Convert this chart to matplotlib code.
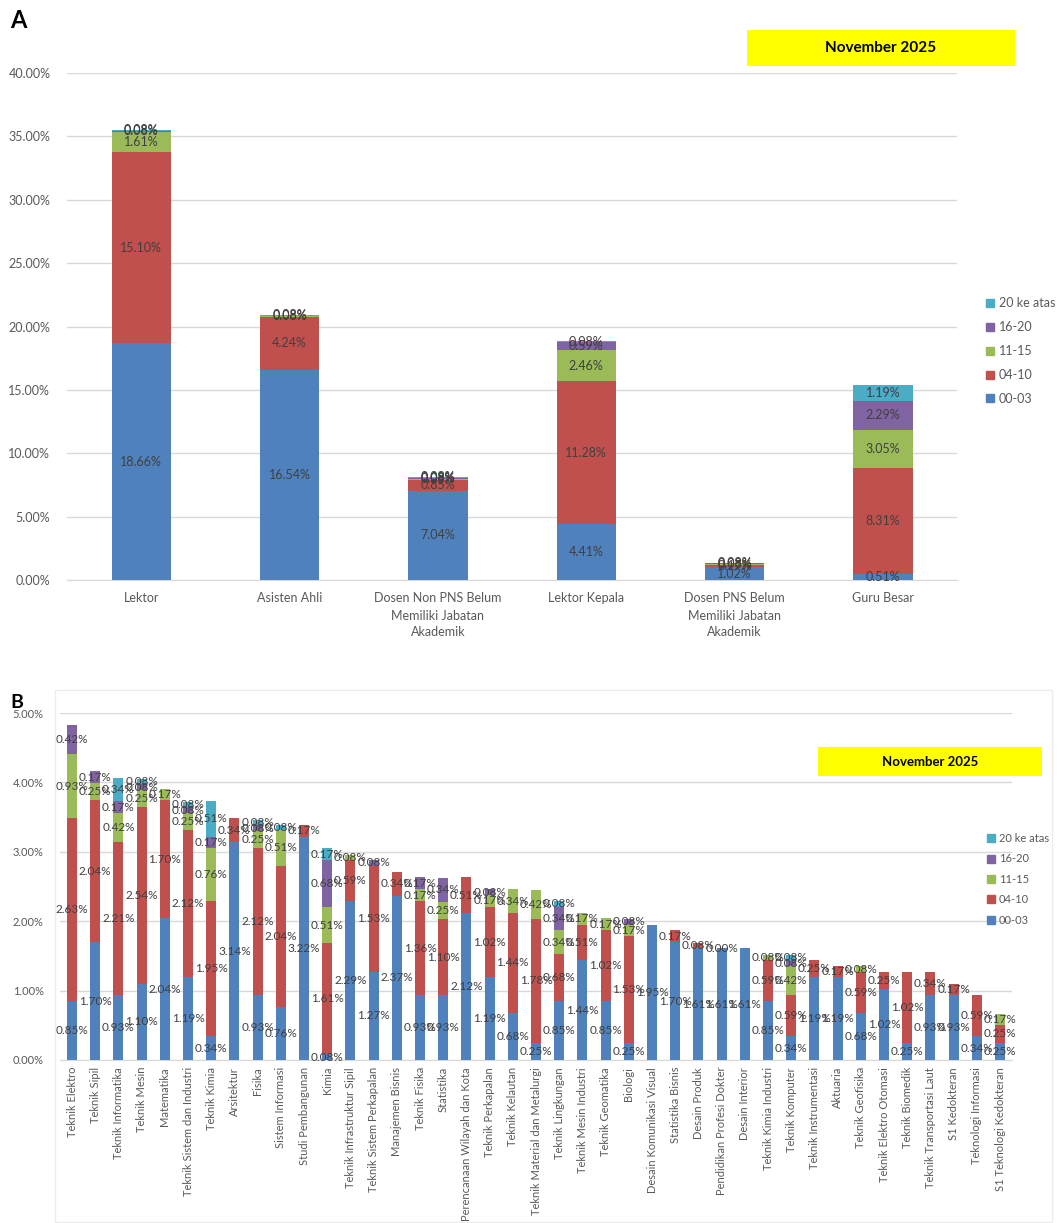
import numpy as np
import matplotlib
matplotlib.use("Agg")
import matplotlib.pyplot as plt
from matplotlib.patches import Rectangle
from matplotlib.lines import Line2D

nan = np.nan
plt.rcParams['font.family'] = ['Lato', 'DejaVu Sans']

series = ["00-03", "04-10", "11-15", "16-20", "20 ke atas"]
colors = ["#4F81BD", "#C0504D", "#9BBB59", "#8064A2", "#4BACC6"]

# ---- Panel A data ----
cat_a = ["Lektor", "Asisten Ahli", "Dosen Non PNS Belum\nMemiliki Jabatan\nAkademik",
         "Lektor Kepala", "Dosen PNS Belum\nMemiliki Jabatan\nAkademik", "Guru Besar"]
a_0003 = [18.66, 16.54, 7.04, 4.41, 1.02, 0.51]
a_0410 = [15.10, 4.24, 0.85, 11.28, 0.17, 8.31]
a_1115 = [1.61, 0.08, 0.08, 2.46, 0.08, 3.05]
a_1620 = [0.08, nan, 0.08, 0.59, 0.08, 2.29]
a_20up = [0.08, 0.08, 0.08, 0.08, nan, 1.19]
yticks_a = [0, 5, 10, 15, 20, 25, 30, 35, 40]

# ---- Panel B data ----
cat_b = ["Teknik Elektro", "Teknik Sipil", "Teknik Informatika", "Teknik Mesin", "Matematika",
         "Teknik Sistem dan Industri", "Teknik Kimia", "Arsitektur", "Fisika", "Sistem Informasi",
         "Studi Pembangunan", "Kimia", "Teknik Infrastruktur Sipil", "Teknik Sistem Perkapalan",
         "Manajemen Bisnis", "Teknik Fisika", "Statistika", "Perencanaan Wilayah dan Kota",
         "Teknik Perkapalan", "Teknik Kelautan", "Teknik Material dan Metalurgi", "Teknik Lingkungan",
         "Teknik Mesin Industri", "Teknik Geomatika", "Biologi", "Desain Komunikasi Visual",
         "Statistika Bisnis", "Desain Produk", "Pendidikan Profesi Dokter", "Desain Interior",
         "Teknik Kimia Industri", "Teknik Komputer", "Teknik Instrumentasi", "Aktuaria",
         "Teknik Geofisika", "Teknik Elektro Otomasi", "Teknik Biomedik", "Teknik Transportasi Laut",
         "S1 Kedokteran", "Teknologi Informasi", "S1 Teknologi Kedokteran"]
b_0003 = [0.85, 1.70, 0.93, 1.10, 2.04, 1.19, 0.34, 3.14, 0.93, 0.76,
          3.22, 0.08, 2.29, 1.27, 2.37, 0.93, 0.93, 2.12, 1.19, 0.68,
          0.25, 0.85, 1.44, 0.85, 0.25, 1.95, 1.70, 1.61, 1.61, 1.61,
          0.85, 0.34, 1.19, 1.19, 0.68, 1.02, 0.25, 0.93, 0.93, 0.34, 0.25]
b_0410 = [2.63, 2.04, 2.21, 2.54, 1.70, 2.12, 1.95, 0.34, 2.12, 2.04,
          0.17, 1.61, 0.59, 1.53, 0.34, 1.36, 1.10, 0.51, 1.02, 1.44,
          1.78, 0.68, 0.51, 1.02, 1.53, nan, 0.17, 0.08, 0.00, nan,
          0.59, 0.59, 0.25, 0.17, 0.59, 0.25, 1.02, 0.34, 0.17, 0.59, 0.25]
b_1115 = [0.93, 0.25, 0.42, 0.25, 0.17, 0.25, 0.76, nan, 0.25, 0.51,
          nan, 0.51, 0.08, nan, nan, 0.17, 0.25, nan, 0.17, 0.34,
          0.42, 0.34, 0.17, 0.17, 0.17, nan, nan, nan, nan, nan,
          0.08, 0.42, nan, nan, 0.08, nan, nan, nan, nan, nan, 0.17]
b_1620 = [0.42, 0.17, 0.17, 0.08, nan, 0.08, 0.17, nan, 0.08, nan,
          nan, 0.68, nan, 0.08, nan, 0.17, 0.34, nan, 0.08, nan,
          nan, 0.34, nan, nan, 0.08, nan, nan, nan, nan, nan,
          nan, 0.08, nan, nan, nan, nan, nan, nan, nan, nan, nan]
b_20up = [nan, nan, 0.34, 0.08, nan, 0.08, 0.51, nan, 0.08, 0.08,
          nan, 0.17, nan, nan, nan, nan, nan, nan, nan, nan,
          nan, 0.08, nan, nan, nan, nan, nan, nan, nan, nan,
          nan, 0.08, nan, nan, nan, nan, nan, nan, nan, nan, nan]
yticks_b = [0, 1, 2, 3, 4, 5]

W, H = 1058, 1223
fig = plt.figure(figsize=(W / 100, H / 100), dpi=100)
fig.patch.set_facecolor("white")

def fx(px):
    return px / W

def fy(py):
    return 1 - py / H

TICK_C = "#595959"
LAB_C = "#404040"
GRID_C = "#d9d9d9"

def stacked(ax, cats, data, width, lab_size):
    x = np.arange(len(cats))
    bottom = np.zeros(len(cats))
    for vals, col in zip(data, colors):
        v = np.array(vals, dtype=float)
        h = np.nan_to_num(v)
        ax.bar(x, h, width, bottom=bottom, color=col, zorder=3, linewidth=0)
        for i, val in enumerate(v):
            if not np.isnan(val):
                ax.text(x[i], bottom[i] + h[i] / 2, f"{val:.2f}%", ha="center", va="center",
                        fontsize=lab_size, color=LAB_C, zorder=4)
        bottom = bottom + h
    ax.set_xlim(-0.5, len(cats) - 0.5)
    for s in ["top", "right", "left"]:
        ax.spines[s].set_visible(False)
    ax.spines["bottom"].set_color(GRID_C)
    ax.grid(axis="y", color=GRID_C, linewidth=1, zorder=0)
    ax.tick_params(length=0, colors=TICK_C)
    ax.set_xticks(x)

# ---- Panel A ----
axA = fig.add_axes([fx(67), fy(580), fx(957 - 67), (580 - 73) / H])
stacked(axA, cat_a, [a_0003, a_0410, a_1115, a_1620, a_20up], 0.4, 9)
axA.set_ylim(0, 40)
axA.set_yticks(yticks_a)
axA.set_yticklabels([f"{v:.2f}%" for v in yticks_a], fontsize=9, color=TICK_C)
axA.set_xticklabels(cat_a, fontsize=9, color=TICK_C, linespacing=1.5)
axA.tick_params(axis="x", pad=9)
axA.tick_params(axis="y", pad=12)

handles = [Line2D([], [], marker="s", linestyle="", markersize=6, color=c) for c in colors]
legA = fig.legend(handles[::-1], series[::-1], loc="upper left",
                  bbox_to_anchor=(fx(975), fy(286)), frameon=False, fontsize=9,
                  handlelength=0.6, handletextpad=0.4, labelspacing=0.95, labelcolor=TICK_C)

fig.add_artist(Rectangle((fx(747), fy(66)), fx(1015 - 747), (66 - 30) / H,
                         transform=fig.transFigure, facecolor="#FFFF00", edgecolor="none"))
fig.text(fx(881), fy(48), "November 2025", ha="center", va="center",
         fontsize=11, fontweight="bold", color="black")
fig.text(fx(10), fy(20), "A", ha="left", va="center", fontsize=17, fontweight="bold")

# ---- Panel B ----
fig.add_artist(Rectangle((fx(55), fy(1222)), fx(1052 - 55), (1222 - 690) / H,
                         transform=fig.transFigure, facecolor="none", edgecolor="#ececec", linewidth=1))
axB = fig.add_axes([fx(60.4), fy(1060), fx(1011.6 - 60.4), (1060 - 713) / H])
stacked(axB, cat_b, [b_0003, b_0410, b_1115, b_1620, b_20up], 0.43, 8.5)
axB.set_ylim(0, 5)
axB.set_yticks(yticks_b)
axB.set_yticklabels([f"{v:.2f}%" for v in yticks_b], fontsize=8, color=TICK_C)
axB.set_xticklabels(cat_b, fontsize=8, color=TICK_C, rotation=90)
axB.tick_params(axis="y", pad=12)
axB.tick_params(axis="x", pad=5)

legB = fig.legend(handles[::-1], series[::-1], loc="upper left",
                  bbox_to_anchor=(fx(978), fy(823)), frameon=False, fontsize=8,
                  handlelength=0.6, handletextpad=0.4, labelspacing=0.85, labelcolor=TICK_C)

fig.add_artist(Rectangle((fx(818), fy(776)), fx(1042 - 818), (776 - 747) / H,
                         transform=fig.transFigure, facecolor="#FFFF00", edgecolor="none"))
fig.text(fx(930), fy(761.5), "November 2025", ha="center", va="center",
         fontsize=9.5, fontweight="bold", color="black")
fig.text(fx(10), fy(703), "B", ha="left", va="center", fontsize=14, fontweight="bold")

fig.savefig("out.png", dpi=100, facecolor="white")
